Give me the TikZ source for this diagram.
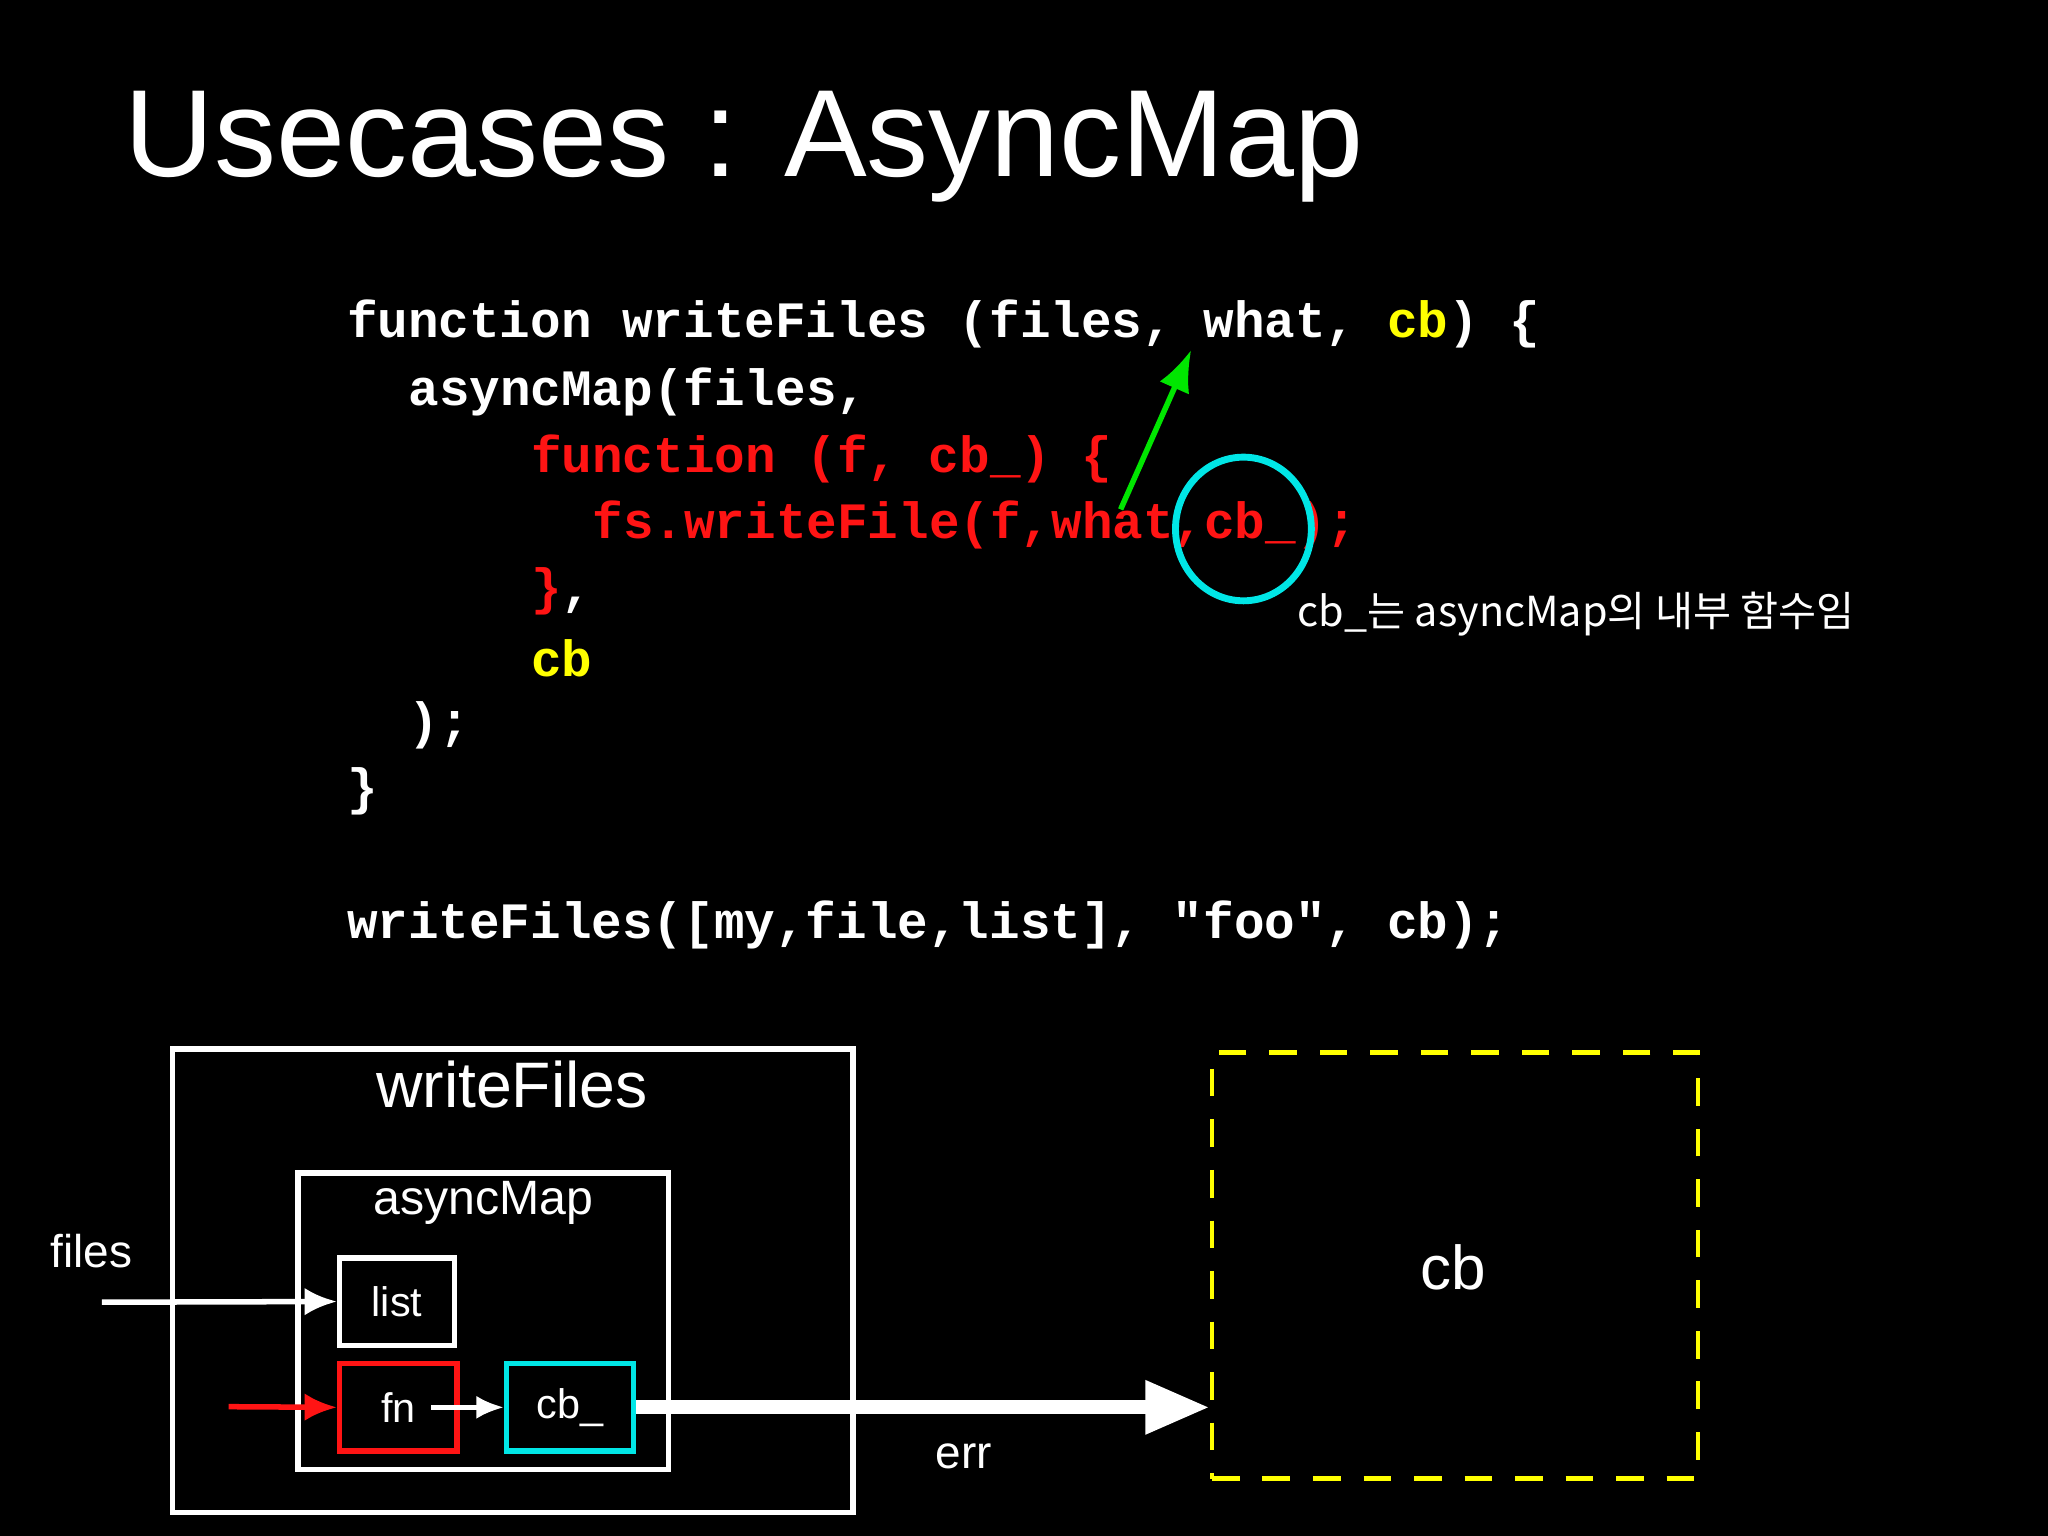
\documentclass[tikz,border=0pt]{standalone}
\usepackage{fontspec}
\setmainfont{Liberation Sans}
\newfontfamily\codefont{Liberation Mono}
\newfontfamily\krfont{Noto Sans CJK KR}
\usetikzlibrary{arrows.meta}
\definecolor{cred}{RGB}{255,20,20}
\definecolor{cyel}{RGB}{255,255,0}
\definecolor{ccyan}{RGB}{0,230,230}
\definecolor{cgreen}{RGB}{0,230,0}
\tikzset{
 code/.style={anchor=west,inner sep=0pt,text=white,font=\codefont\bfseries\fontsize{11.1pt}{13pt}\selectfont},
 lbl/.style={text=white,inner sep=0pt},
 box/.style={draw=white,line width=1.2pt},
 small/.style={line width=1.2pt,minimum height=0.67cm,inner sep=0pt,lbl,font=\fontsize{9pt}{10pt}\selectfont},
}
\begin{document}
\begin{tikzpicture}[x=0.01cm,y=-0.01cm]
\fill[black] (0,0) rectangle (1568,1176);
\useasboundingbox (0,0) rectangle (1568,1176);
\node[lbl,anchor=west,font=\fontsize{27pt}{31pt}\selectfont] (title) at (95,112) {Usecases : AsyncMap};
\node[code] (l1) at (265,248) {function writeFiles (files, what, \textcolor{cyel}{cb}) \{};
\node[code] (l2) at (312,300) {asyncMap(files,};
\node[code,text=cred] (l3) at (406,351) {function (f, cb\_) \{};
\node[code,text=cred] (l4) at (453,402) {fs.writeFile(f,what,cb\_);};
\node[code] (l5) at (406,453) {\textcolor{cred}{\}},};
\node[code,text=cyel] (l6) at (406,504) {cb};
\node[code] (l7) at (312,555) {);};
\node[code] (l8) at (265,606) {\}};
\node[code] (l9) at (265,708) {writeFiles([my,file,list], "foo", cb);};
\coordinate (gs) at (858,390); \coordinate (ge) at (912,268);
\draw[cgreen,line width=1.2pt,-{Latex[length=9pt,width=7pt]}] (gs) -- (ge);
\draw[ccyan,line width=1.5pt] (952,405) ellipse [x radius=52,y radius=55];
\node[lbl,anchor=west,font=\krfont\fontsize{9pt}{10pt}\selectfont] (note) at (993,470) {cb\_는 asyncMap의 내부 함수임};
% diagram
\draw[box] (132,803) rectangle (653,1158);
\node[lbl,font=\fontsize{14pt}{16pt}\selectfont] (wf) at (392,830) {writeFiles};
\draw[box] (228,898) rectangle (512,1125);
\node[lbl,font=\fontsize{10.5pt}{12pt}\selectfont] (am) at (370,921) {asyncMap};
\node[small,draw=white,minimum width=0.88cm] (list) at (304,996.5) {list};
\node[small,draw=cred,minimum width=0.90cm] (fn) at (305,1077.5) {fn};
\node[small,draw=ccyan,minimum width=0.97cm] (cbu) at (436.5,1077.5) {cb\_};
\node[lbl,font=\fontsize{10pt}{12pt}\selectfont] (files) at (70,958) {files};
\coordinate (fstart) at (78,997);
\draw[white,line width=1.2pt,-{Latex[length=7pt,width=6pt]}] (fstart) -- (list.west);
\coordinate (rstart) at (175,1077);
\draw[cred,line width=1.2pt,-{Latex[length=7pt,width=6pt]}] (rstart) -- (fn.west);
\coordinate (fnc) at (330,1077.5);
\draw[white,line width=1pt,-{Latex[length=6pt,width=5pt]}] (fnc) -- (cbu.west);
\node[draw=cyel,dash pattern=on 6pt off 5pt,line width=1pt,minimum width=3.72cm,minimum height=3.26cm,inner sep=0pt] (cbbox) at (1114,969) {};
\node[lbl,font=\fontsize{13.5pt}{16pt}\selectfont] (cbt) at (1113,970) {cb};
\draw[white,line width=3pt,-{Triangle[length=14pt,width=11pt]}] (cbu.east) -- (cbbox.west |- cbu.east);
\node[lbl,font=\fontsize{10pt}{12pt}\selectfont] (err) at (738,1115) {err};
\end{tikzpicture}
\end{document}
